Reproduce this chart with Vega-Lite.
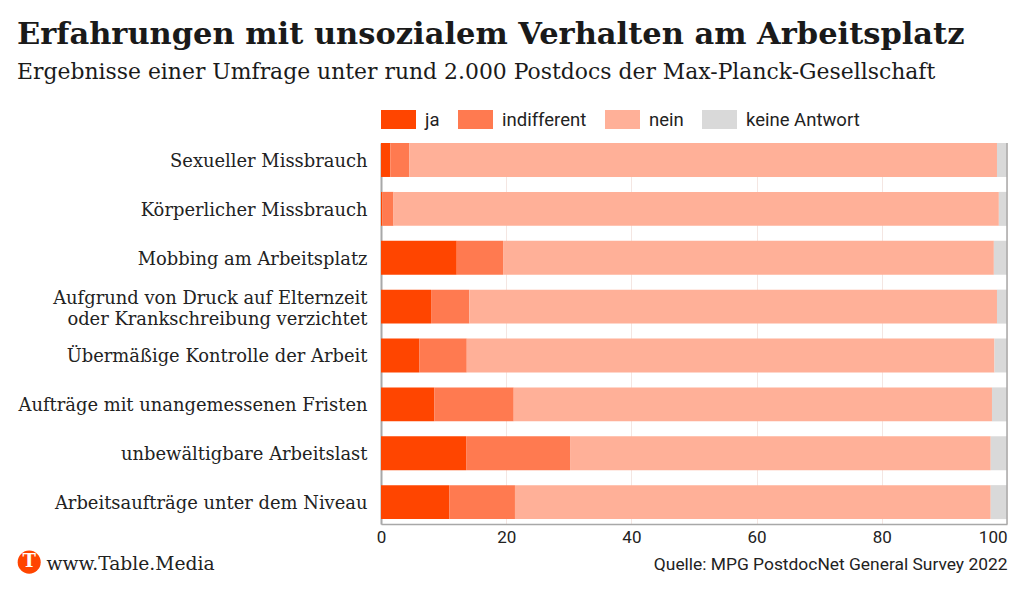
{"$schema":"https://vega.github.io/schema/vega-lite/v6.json","width":626,"height":381,"autosize":"none","padding":{"left":381,"top":143,"right":17,"bottom":66},"background":"white",
"title":{"text":"Erfahrungen mit unsozialem Verhalten am Arbeitsplatz","subtitle":"Ergebnisse einer Umfrage unter rund 2.000 Postdocs der Max-Planck-Gesellschaft","anchor":"start","frame":"group","dx":-364,"offset":19,"font":"DejaVu Serif","fontWeight":"bold","fontSize":30.5,"color":"#1a1a1a","subtitleFont":"DejaVu Serif","subtitleFontSize":21.9,"subtitleColor":"#1a1a1a","subtitlePadding":12},
"datasets":{"rows":[
{"c":"Sexueller Missbrauch","a":"ja","n":1,"v":1.5},{"c":"Sexueller Missbrauch","a":"indifferent","n":2,"v":3.0},{"c":"Sexueller Missbrauch","a":"nein","n":3,"v":93.9},{"c":"Sexueller Missbrauch","a":"keine Antwort","n":4,"v":1.6},
{"c":"Körperlicher Missbrauch","a":"ja","n":1,"v":0.2},{"c":"Körperlicher Missbrauch","a":"indifferent","n":2,"v":1.8},{"c":"Körperlicher Missbrauch","a":"nein","n":3,"v":96.7},{"c":"Körperlicher Missbrauch","a":"keine Antwort","n":4,"v":1.3},
{"c":"Mobbing am Arbeitsplatz","a":"ja","n":1,"v":12.1},{"c":"Mobbing am Arbeitsplatz","a":"indifferent","n":2,"v":7.4},{"c":"Mobbing am Arbeitsplatz","a":"nein","n":3,"v":78.4},{"c":"Mobbing am Arbeitsplatz","a":"keine Antwort","n":4,"v":2.1},
{"c":"Aufgrund von Druck auf Elternzeit|oder Krankschreibung verzichtet","a":"ja","n":1,"v":8.0},{"c":"Aufgrund von Druck auf Elternzeit|oder Krankschreibung verzichtet","a":"indifferent","n":2,"v":6.1},{"c":"Aufgrund von Druck auf Elternzeit|oder Krankschreibung verzichtet","a":"nein","n":3,"v":84.3},{"c":"Aufgrund von Druck auf Elternzeit|oder Krankschreibung verzichtet","a":"keine Antwort","n":4,"v":1.6},
{"c":"Übermäßige Kontrolle der Arbeit","a":"ja","n":1,"v":6.1},{"c":"Übermäßige Kontrolle der Arbeit","a":"indifferent","n":2,"v":7.6},{"c":"Übermäßige Kontrolle der Arbeit","a":"nein","n":3,"v":84.3},{"c":"Übermäßige Kontrolle der Arbeit","a":"keine Antwort","n":4,"v":2.0},
{"c":"Aufträge mit unangemessenen Fristen","a":"ja","n":1,"v":8.5},{"c":"Aufträge mit unangemessenen Fristen","a":"indifferent","n":2,"v":12.7},{"c":"Aufträge mit unangemessenen Fristen","a":"nein","n":3,"v":76.4},{"c":"Aufträge mit unangemessenen Fristen","a":"keine Antwort","n":4,"v":2.4},
{"c":"unbewältigbare Arbeitslast","a":"ja","n":1,"v":13.6},{"c":"unbewältigbare Arbeitslast","a":"indifferent","n":2,"v":16.6},{"c":"unbewältigbare Arbeitslast","a":"nein","n":3,"v":67.2},{"c":"unbewältigbare Arbeitslast","a":"keine Antwort","n":4,"v":2.6},
{"c":"Arbeitsaufträge unter dem Niveau","a":"ja","n":1,"v":10.9},{"c":"Arbeitsaufträge unter dem Niveau","a":"indifferent","n":2,"v":10.5},{"c":"Arbeitsaufträge unter dem Niveau","a":"nein","n":3,"v":76.0},{"c":"Arbeitsaufträge unter dem Niveau","a":"keine Antwort","n":4,"v":2.6}
],"logo":[{"c":"Arbeitsaufträge unter dem Niveau","x":-56.2,"t":"T"}]},
"layer":[
{"data":{"name":"rows"},"mark":{"type":"bar"},
"encoding":{
"y":{"field":"c","type":"nominal","sort":null,"scale":{"paddingInner":0.305,"paddingOuter":0.05,"align":0},
"axis":{"title":"www.Table.Media","titleFont":"DejaVu Serif","titleFontWeight":"normal","titleFontSize":18.7,"titleColor":"#222222","titleAngle":0,"titleAlign":"left","titleBaseline":"middle","titleX":-335,"titleY":420,"labelExpr":"split(datum.label,'|')","labelFont":"DejaVu Serif","labelFontSize":17.9,"labelColor":"#222222","labelLimit":380,"labelPadding":14,"labelLineHeight":21,"labelOffset":2,"labelBaseline":{"expr":"indexof(datum.value,'|')>0?'line-bottom':'middle'"},"ticks":false,"domain":true,"domainColor":"#a8a8a8","domainWidth":2,"grid":false}},
"x":{"field":"v","type":"quantitative","stack":"zero","scale":{"domain":[0,100],"nice":false},
"axis":{"title":"Quelle: MPG PostdocNet General Survey 2022","titleFont":"Roboto","titleFontWeight":"normal","titleFontSize":17.4,"titleColor":"#222222","titleAlign":"right","titleBaseline":"middle","titleX":626,"titleY":40,"values":[0,20,40,60,80,100],"labelFont":"Roboto","labelFontSize":17,"labelColor":"#222222","labelPadding":5,"labelFlush":false,"labelAlign":{"expr":"datum.value==100?'right':'center'"},"ticks":false,"domain":true,"domainColor":"#a8a8a8","domainWidth":1.5,"grid":true,"gridColor":"#f4e6e2","gridWidth":1}},
"color":{"field":"a","type":"nominal","scale":{"domain":["ja","indifferent","nein","keine Antwort"],"range":["#ff4500","#ff7a50","#ffb098","#d9d9d9"]},
"legend":{"title":null,"orient":"none","legendX":0,"legendY":-41,"direction":"horizontal","symbolType":"M-1,-0.54H1V0.54H-1Z","symbolSize":1225,"symbolStrokeWidth":0,"symbolOpacity":1,"labelFont":"Roboto","labelFontSize":18.5,"labelColor":"#222222","labelOffset":9,"columnPadding":18}},
"order":{"field":"n","type":"quantitative"}}},
{"data":{"values":[{"v":100}]},"mark":{"type":"rule","color":"#a8a8a8","strokeWidth":1.5},"encoding":{"x":{"field":"v","type":"quantitative"}}},
{"data":{"name":"logo"},"mark":{"type":"point","shape":"circle","filled":true,"color":"#ff4500","opacity":1,"size":530,"clip":false,"yOffset":60},"encoding":{"x":{"field":"x","type":"quantitative"},"y":{"field":"c","type":"nominal","sort":null}}},
{"data":{"name":"logo"},"mark":{"type":"text","font":"DejaVu Serif","fontWeight":"bold","fontSize":18,"color":"white","clip":false,"yOffset":60},"encoding":{"x":{"field":"x","type":"quantitative"},"y":{"field":"c","type":"nominal","sort":null},"text":{"field":"t"}}}
]}
